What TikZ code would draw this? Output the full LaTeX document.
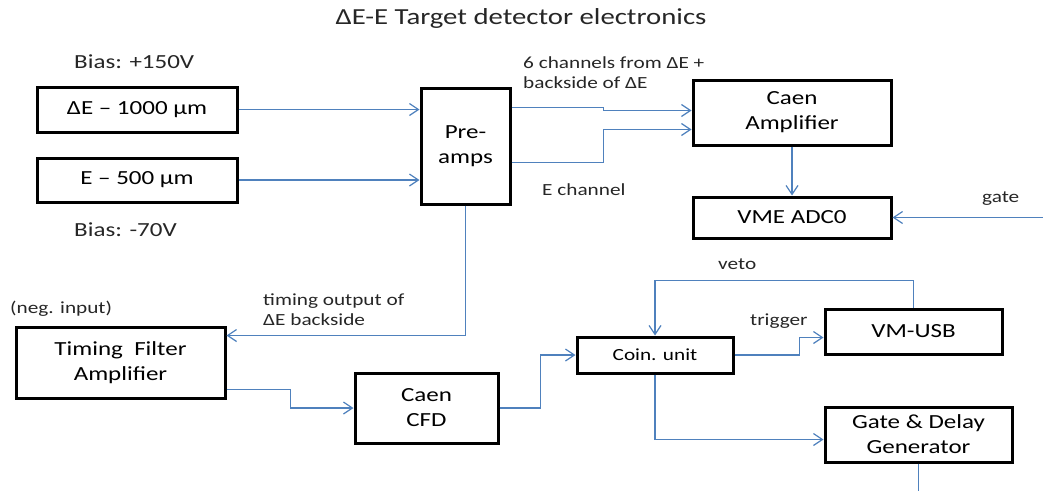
\documentclass[tikz,border=0pt]{standalone}
\usepackage{fontspec}
\setmainfont[FakeStretch=1.25]{Carlito}
\usetikzlibrary{arrows.meta,calc}
\definecolor{sigblue}{RGB}{79,129,189}
\begin{document}
\begin{tikzpicture}[x=1pt,y=-1pt,
  box/.style={draw=black,line width=3pt,inner sep=0pt,align=center,font=\fontsize{20}{25}\selectfont},
  sig/.style={draw=sigblue,line width=1.2pt,-{Straight Barb[length=9pt,width=12pt]}},
  lbl/.style={anchor=west,inner sep=0pt,align=left,font=\fontsize{17}{20}\selectfont,text=black!85}]
\useasboundingbox (0,0) rectangle (1043,491);
\node[font=\fontsize{23}{28}\selectfont,text=black!85] (title) at (521,18) {ΔE-E Target detector electronics};
\node[lbl,font=\fontsize{20}{24}\selectfont] (biasde) at (74,62) {Bias: +150V};
\node[lbl,font=\fontsize{20}{24}\selectfont] (biase) at (74,230) {Bias: -70V};
\node[box,minimum width=200,minimum height=45] (de) at (137,109.5) {ΔE – 1000 μm};
\node[box,minimum width=200,minimum height=44] (e) at (137,180) {E – 500 μm};
\node[box,minimum width=89,minimum height=116] (pre) at (465.5,146) {Pre-\\amps};
\node[box,minimum width=198,minimum height=65] (amp) at (792,112.5) {Caen\\Amplifier};
\node[box,minimum width=198,minimum height=41] (adc) at (792,217.5) {VME ADC0};
\node[box,minimum width=209,minimum height=71] (tfa) at (120.5,362.5) {Timing\ \ Filter\\Amplifier};
\node[box,minimum width=143,minimum height=70] (cfd) at (426.5,408) {Caen\\CFD};
\node[box,minimum width=156,minimum height=36,font=\fontsize{17}{20}\selectfont] (coin) at (655,355) {Coin. unit};
\node[box,minimum width=177,minimum height=45] (usb) at (913.5,331.5) {VM-USB};
\node[box,minimum width=187,minimum height=55] (gdg) at (918.5,434.5) {Gate \& Delay\\Generator};
\node[lbl] (chlbl) at (523,73) {6 channels from ΔE +\\backside of ΔE};
\node[lbl] (elbl) at (542,190) {E channel};
\node[lbl] (gatelbl) at (982,199) {gate};
\node[lbl] (vetolbl) at (718,264) {veto};
\node[lbl] (triglbl) at (750,321) {trigger};
\node[lbl] (timlbl) at (263,310) {timing output of\\ΔE backside};
\node[lbl] (neglbl) at (10,309) {(neg. input)};
\coordinate (gatein) at (1043,217.5);
\coordinate (gdgout) at (918.5,491);
\draw[sig] (de) -- (de -| pre.west);
\draw[sig] (e) -- (e -| pre.west);
\draw[sig] ($(pre.north east)+(0,21)$) -- ++(92,0) |- ($(amp.north west)+(0,32)$);
\draw[sig] ($(pre.north east)+(0,76)$) -- ++(92,0) |- ($(amp.north west)+(0,51)$);
\draw[sig] (amp) -- (adc);
\draw[sig] (gatein) -- (adc);
\draw[sig] (pre.south) |- ($(tfa.north east)+(0,10)$);
\draw[sig] ($(tfa.south east)+(0,-10)$) -- ++(64,0) |- (cfd);
\draw[sig] (cfd.east) -- ++(41,0) |- (coin);
\draw[sig] (coin.east) -- ++(65,0) |- ($(usb.south west)+(0,-18)$);
\draw[sig] (usb.north) -- ++(0,-27) -| (coin);
\draw[sig] (coin.south) |- ($(gdg.west)+(0,5)$);
\draw[draw=sigblue,line width=1.2pt] (gdg) -- (gdgout);
\end{tikzpicture}
\end{document}
